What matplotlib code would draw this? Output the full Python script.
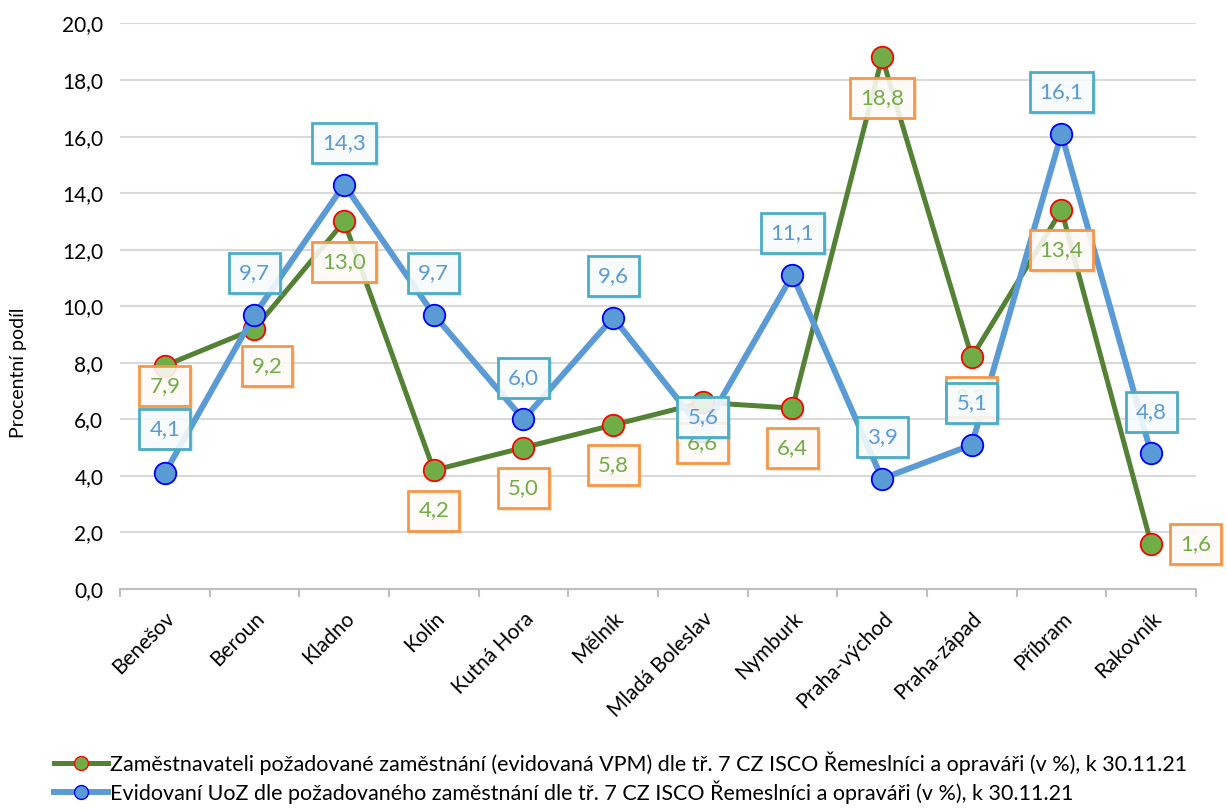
import matplotlib
matplotlib.use("Agg")
import matplotlib.pyplot as plt
from matplotlib.lines import Line2D
import matplotlib.patheffects as pe
import numpy as np

categories = ["Benešov", "Beroun", "Kladno", "Kolín", "Kutná Hora", "Mělník",
              "Mladá Boleslav", "Nymburk", "Praha-východ", "Praha-západ",
              "Příbram", "Rakovník"]
vpm = [7.9, 9.2, 13.0, 4.2, 5.0, 5.8, 6.6, 6.4, 18.8, 8.2, 13.4, 1.6]
uoz = [4.1, 9.7, 14.3, 9.7, 6.0, 9.6, 5.6, 11.1, 3.9, 5.1, 16.1, 4.8]
yticks = [0, 2, 4, 6, 8, 10, 12, 14, 16, 18, 20]
legend_labels = [
    "Zaměstnavateli požadované zaměstnání (evidovaná VPM) dle tř. 7 CZ ISCO Řemeslníci a opraváři (v %), k 30.11.21",
    "Evidovaní UoZ dle požadovaného zaměstnání dle tř. 7 CZ ISCO Řemeslníci a opraváři (v %), k 30.11.21",
]
ylabel = "Procentní podíl"

plt.rcParams['font.family'] = ['Lato', 'DejaVu Sans']

GREEN_LINE = "#548235"
GREEN_FILL = "#70AD47"
BLUE = "#5B9BD5"
ORANGE = "#F79646"
CYAN = "#4BACC6"

fig = plt.figure(figsize=(12.27, 8.10), dpi=100)
ax = fig.add_axes([0.0978, 0.2728, 0.8769, 0.6982])

x = np.arange(len(categories))
ax.plot(x, vpm, color=GREEN_LINE, lw=3.6, marker='o', ms=15.5,
        mfc=GREEN_FILL, mec='red', mew=1.3, zorder=3, solid_joinstyle='round')
ax.plot(x, uoz, color=BLUE, lw=4.3, marker='o', ms=15.5,
        mfc=BLUE, mec='blue', mew=1.3, zorder=4, solid_joinstyle='round')

def shadow(color):
    return [pe.SimplePatchShadow(offset=(2, -2), shadow_rgbFace=color, alpha=0.25), pe.Normal()]

# green labels: mostly below, special cases for Benešov, Beroun, Rakovník
green_offsets = {0: (0, -15), 1: (9, -27), 11: (32, 0)}
for i, v in enumerate(vpm):
    off = green_offsets.get(i, (0, -29))
    a = ax.annotate(f"{v:.1f}".replace('.', ','), (i, v), xytext=off,
                    textcoords='offset points', ha='center', va='center',
                    fontsize=16, color=GREEN_FILL, zorder=5,
                    bbox=dict(boxstyle='square,pad=0.45', fc=(1, 1, 1, 0.85),
                              ec=ORANGE, lw=2))
    a.get_bbox_patch().set_path_effects(shadow(ORANGE))

# blue labels: above
blue_offsets = {0: (0, 32), 6: (0, 10)}
for i, v in enumerate(uoz):
    off = blue_offsets.get(i, (0, 30))
    a = ax.annotate(f"{v:.1f}".replace('.', ','), (i, v), xytext=off,
                    textcoords='offset points', ha='center', va='center',
                    fontsize=16, color=BLUE, zorder=6,
                    bbox=dict(boxstyle='square,pad=0.45', fc=(1, 1, 1, 0.85),
                              ec=CYAN, lw=2))
    a.get_bbox_patch().set_path_effects(shadow(CYAN))

ax.set_xlim(-0.5, len(categories) - 0.5)
ax.set_ylim(0, 20)
ax.set_yticks(yticks)
ax.set_yticklabels([f"{t:.1f}".replace('.', ',') for t in yticks], fontsize=15)
ax.tick_params(axis='y', length=0, pad=12)
ax.grid(axis='y', color='#D9D9D9', lw=1.5)
ax.set_axisbelow(True)

ax.set_xticks(x)
ax.set_xticklabels(categories, rotation=45, ha='right', va='top',
                   rotation_mode='anchor', fontsize=15)
ax.tick_params(axis='x', length=0, pad=14)
ax.set_xticks(np.arange(-0.5, len(categories)), minor=True)
ax.tick_params(axis='x', which='minor', length=6, width=1.5, color='#BFBFBF')

for s in ['top', 'right', 'left']:
    ax.spines[s].set_visible(False)
ax.spines['bottom'].set_color('#BFBFBF')
ax.spines['bottom'].set_linewidth(1.5)

fig.text(0.015, 0.54, ylabel, rotation=90, ha='center', va='center', fontsize=14)

handles = [
    Line2D([], [], color=GREEN_LINE, lw=3.6, marker='o', ms=10, mfc=GREEN_FILL, mec='red', mew=1),
    Line2D([], [], color=BLUE, lw=4.3, marker='o', ms=10, mfc=BLUE, mec='blue', mew=1),
]
fig.legend(handles, legend_labels, loc='lower left', bbox_to_anchor=(0.028, -0.016),
           frameon=False, fontsize=15.5, handlelength=2.5, handletextpad=0.1,
           labelspacing=0.25)

fig.savefig("out.png", dpi=100)
